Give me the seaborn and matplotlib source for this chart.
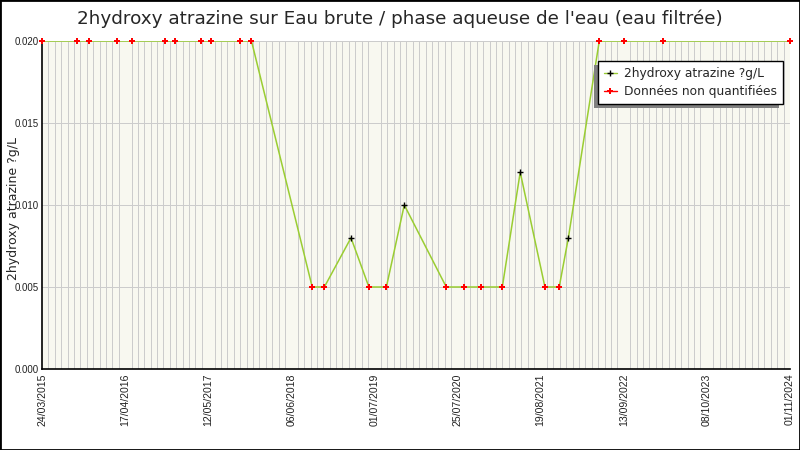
import matplotlib
matplotlib.use("Agg")
import matplotlib.pyplot as plt
import matplotlib.dates as mdates
from matplotlib.ticker import MultipleLocator, FixedLocator, FormatStrFormatter
from matplotlib.lines import Line2D
from matplotlib.patches import Rectangle
from matplotlib.transforms import IdentityTransform
import seaborn as sns
import pandas as pd

# ---------------- data ----------------
sample_dates = [
    "2015-03-24", "2015-09-06", "2015-11-01", "2016-03-11", "2016-05-18",
    "2016-10-21", "2016-12-09", "2017-04-06", "2017-05-27", "2017-10-06",
    "2017-12-01", "2018-09-12", "2018-11-08", "2019-03-13", "2019-06-05",
    "2019-08-26", "2019-11-18", "2020-06-02", "2020-08-26", "2020-11-13",
    "2021-02-20", "2021-05-15", "2021-09-08", "2021-11-14", "2021-12-27",
    "2022-05-21", "2022-09-15", "2023-03-17", "2024-11-01",
]
concentrations = [
    0.020, 0.020, 0.020, 0.020, 0.020,
    0.020, 0.020, 0.020, 0.020, 0.020,
    0.020, 0.005, 0.005, 0.008, 0.005,
    0.005, 0.010, 0.005, 0.005, 0.005,
    0.005, 0.012, 0.005, 0.005, 0.008,
    0.020, 0.020, 0.020, 0.020,
]
quantified = [
    False, False, False, False, False,
    False, False, False, False, False,
    False, False, False, True, False,
    False, True, False, False, False,
    False, True, False, False, True,
    False, False, False, False,
]
x_tick_labels = [
    "24/03/2015", "17/04/2016", "12/05/2017", "06/06/2018", "01/07/2019",
    "25/07/2020", "19/08/2021", "13/09/2022", "08/10/2023", "01/11/2024",
]
y_ticks = [0.000, 0.005, 0.010, 0.015, 0.020]

title = "2hydroxy atrazine sur Eau brute / phase aqueuse de l'eau (eau filtrée)"
y_label = "2hydroxy atrazine ?g/L"
legend_labels = ["2hydroxy atrazine ?g/L", "Données non quantifiées"]

# ---------------- frame ----------------
df = pd.DataFrame({
    "date": pd.to_datetime(sample_dates),
    "value": concentrations,
    "quantified": quantified,
})
tick_dates = pd.to_datetime(x_tick_labels, format="%d/%m/%Y")

sns.set_style("white")
plt.rcParams["font.family"] = ["DejaVu Sans"]

fig = plt.figure(figsize=(8, 4.5), dpi=100)
ax = fig.add_axes([42 / 800, 1 - 369 / 450, 748 / 800, 328 / 450])

bg = "#f8f8f0"
grid_c = "#cccccc"
line_c = "#9acd32"
ax.set_facecolor(bg)

# line through all samples
sns.lineplot(data=df, x="date", y="value", sort=False, estimator=None,
             color=line_c, linewidth=1.1, ax=ax, zorder=3)

# markers
nq = df[~df["quantified"]]
q = df[df["quantified"]]
sns.scatterplot(data=nq, x="date", y="value", marker="P", color="#ff0000",
                s=24, linewidth=0, ax=ax, zorder=4, clip_on=False)
sns.scatterplot(data=q, x="date", y="value", marker="+", color="black",
                s=14, linewidth=1.0, ax=ax, zorder=4, clip_on=False)

# axes limits & ticks
ax.set_xlim(tick_dates[0], tick_dates[-1])
ax.set_ylim(y_ticks[0], y_ticks[-1])

minor_dates = pd.date_range(tick_dates[0], tick_dates[-1], freq="30D")
ax.xaxis.set_major_locator(FixedLocator(mdates.date2num(tick_dates)))
ax.set_xticklabels(x_tick_labels, rotation=90, fontsize=7.6,
                   family="Liberation Sans", color="#222222")
ax.xaxis.set_minor_locator(FixedLocator(mdates.date2num(minor_dates)))

ax.yaxis.set_major_locator(FixedLocator(y_ticks))
ax.yaxis.set_major_formatter(FormatStrFormatter("%.3f"))
ax.yaxis.set_minor_locator(MultipleLocator(0.00125))
for lab in ax.get_yticklabels():
    lab.set_fontsize(7)
    lab.set_family("Liberation Sans")
    lab.set_color("#222222")

ax.tick_params(axis="both", which="both", direction="in", length=4,
               width=0.8, color="black", pad=2)
ax.tick_params(axis="x", which="major", pad=3)

ax.grid(True, axis="x", which="minor", color=grid_c, linewidth=0.72,
        zorder=0, antialiased=False)
ax.grid(True, axis="y", which="major", color=grid_c, linewidth=0.72,
        zorder=0, antialiased=False)
ax.set_axisbelow(True)

for s in ["top", "right"]:
    ax.spines[s].set_visible(False)
for s in ["left", "bottom"]:
    ax.spines[s].set_color("black")
    ax.spines[s].set_linewidth(1.2)

ax.set_xlabel("")
ax.set_ylabel(y_label, fontsize=9)
ax.yaxis.set_label_coords((20 - 42) / 748, 0.49)

fig.text(0.5, 1 - 19 / 450, title, ha="center", va="center", fontsize=13.2)

# legend
handles = [
    Line2D([], [], color=line_c, marker="+", markeredgecolor="black",
           markersize=4, linewidth=1),
    Line2D([], [], color="#ff0000", marker="P", markerfacecolor="#ff0000",
           markeredgewidth=0, markersize=5, linewidth=1),
]
leg = ax.legend(handles, legend_labels, loc="upper right",
                bbox_to_anchor=((783 - 42) / 748, (369 - 61) / 328),
                borderaxespad=0, frameon=True, fancybox=False, fontsize=8.8,
                handlelength=1.0, handletextpad=0.6, borderpad=0.5,
                labelspacing=0.4, edgecolor="black", facecolor="white",
                framealpha=1)
leg.get_frame().set_linewidth(1.0)
leg.set_zorder(6)

# figure border
fig.add_artist(Rectangle((0, 0), 1, 1, transform=fig.transFigure,
                         fill=False, edgecolor="black", linewidth=2))

# shadow behind legend (offset left / down), drawn under the legend
fig.canvas.draw()
bb = leg.get_window_extent()
shadow = Rectangle((bb.x0 - 4, bb.y0 - 4), bb.width, bb.height,
                   transform=IdentityTransform(), facecolor="#808080",
                   edgecolor="none", zorder=5.5, clip_on=False)
ax.add_artist(shadow)

fig.savefig("out.png", dpi=100, facecolor="white")
